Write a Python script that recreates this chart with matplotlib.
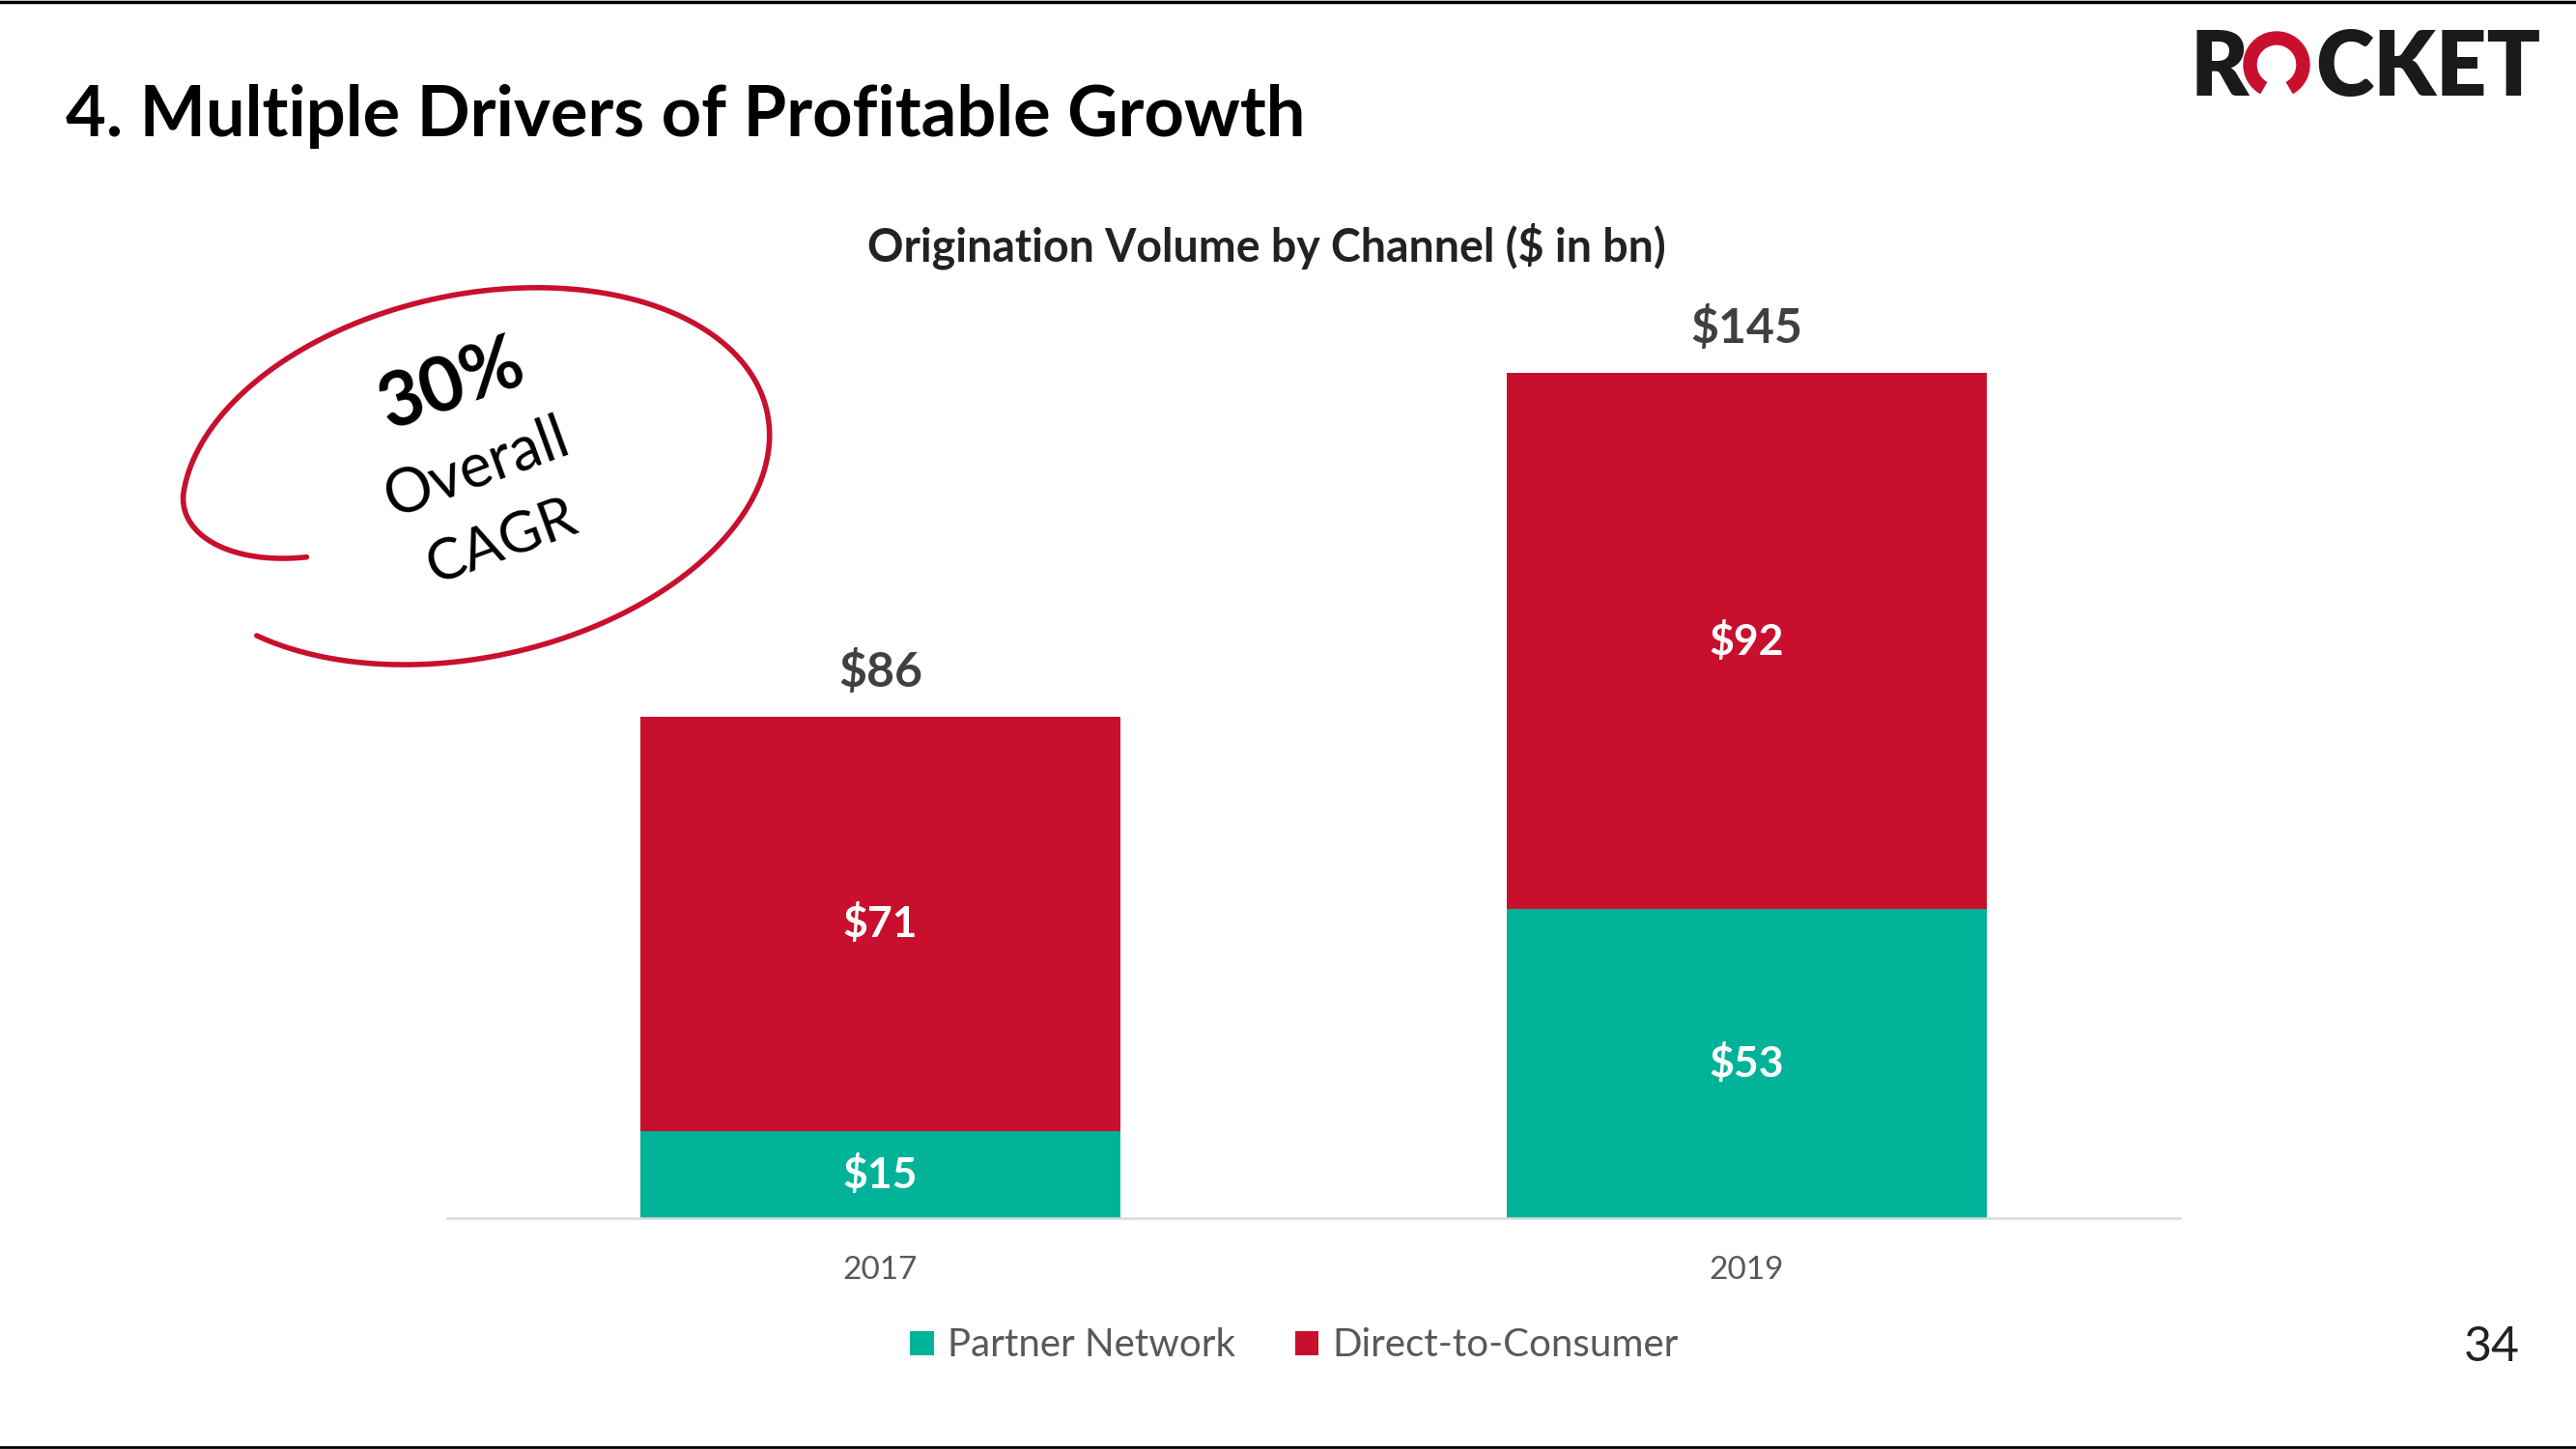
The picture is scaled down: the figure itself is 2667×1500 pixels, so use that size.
import numpy as np
import matplotlib
matplotlib.use("Agg")
import matplotlib.pyplot as plt
from matplotlib.patches import Wedge

plt.rcParams['font.family'] = ['Lato', 'DejaVu Sans']

# data
years = ["2017", "2019"]
partner = [15, 53]
direct = [71, 92]
totals = [86, 145]
series_names = ["Partner Network", "Direct-to-Consumer"]

RED = "#C8102E"
TEAL = "#00B398"
W, H = 2667, 1500

fig = plt.figure(figsize=(26.67, 15), dpi=100)

# overlay in pixel coordinates (y down) for slide decoration
ov = fig.add_axes([0, 0, 1, 1])
ov.set_xlim(0, W)
ov.set_ylim(H, 0)
ov.axis("off")

ov.plot([0, W], [1.5, 1.5], color="black", lw=2.5)
ov.plot([0, W], [1498, 1498], color="black", lw=2)

ov.text(68, 141, "4. Multiple Drivers of Profitable Growth", fontsize=52,
        fontweight="bold", color="black", ha="left", va="baseline")
ov.text(1311, 255, "Origination Volume by Channel ($ in bn)", fontsize=33.5,
        fontweight="bold", color="#222222", ha="center", va="center")
ov.text(2580, 1395, "34", fontsize=36, color="#222222", ha="center", va="center")

# logo
ov.text(2267, 99, "R", fontsize=66, fontweight="heavy", color="#1a1a1a",
        ha="left", va="baseline")
ov.add_patch(Wedge((2357, 67), 34, 120, 420, width=13, color=RED))
ov.text(2630, 99, "CKET", fontsize=66, fontweight="heavy", color="#1a1a1a",
        ha="right", va="baseline")

# hand-drawn CAGR loop
cx, cy, a, b = 488, 490, 302, 181
th = np.deg2rad(12)
t = np.deg2rad(np.linspace(204, -142, 400))
u = np.linspace(0, 1, 400)
s = 1.0 + 0.06 * u - 0.33 * np.clip(1 - u / 0.11, 0, None) ** 2
ex = a * s * np.cos(t)
ey = b * s * np.sin(t)
px = cx + ex * np.cos(th) - ey * np.sin(th)
py = cy - (ex * np.sin(th) + ey * np.cos(th))
ov.plot(px, py, color=RED, lw=4, solid_capstyle="round")

ov.text(468, 400, "30%", fontsize=56, fontweight="bold", rotation=19,
        ha="center", va="center", rotation_mode="anchor")
ov.text(493, 485, "Overall", fontsize=45, rotation=20,
        ha="center", va="center", rotation_mode="anchor")
ov.text(519, 561, "CAGR", fontsize=43, rotation=20,
        ha="center", va="center", rotation_mode="anchor")

# chart
ax = fig.add_axes([463 / W, 1 - 1261 / H, 1794 / W, 965 / H])
ax.set_facecolor("none")
x = np.arange(len(years))
bw = 0.555
b1 = ax.bar(x, partner, bw, color=TEAL, label=series_names[0])
b2 = ax.bar(x, direct, bw, bottom=partner, color=RED, label=series_names[1])

for i in range(len(years)):
    ax.text(x[i], partner[i] / 2, f"${partner[i]}", color="white", fontsize=32,
            fontweight="bold", ha="center", va="center")
    ax.text(x[i], partner[i] + direct[i] / 2, f"${direct[i]}", color="white",
            fontsize=32, fontweight="bold", ha="center", va="center")
    ax.annotate(f"${totals[i]}", xy=(x[i], totals[i]), xytext=(0, 34),
                textcoords="offset points", ha="center", va="center",
                fontsize=36, fontweight="bold", color="#404040")

ax.set_xlim(-0.5, 1.5)
ax.set_ylim(0, 160)
ax.set_xticks(x)
ax.set_xticklabels(years, fontsize=24, color="#595959")
ax.tick_params(axis="x", length=0, pad=28)
ax.set_yticks([])
for sp in ["top", "left", "right"]:
    ax.spines[sp].set_visible(False)
ax.spines["bottom"].set_color("#D9D9D9")
ax.spines["bottom"].set_linewidth(1.8)

fig.legend(handles=[b1, b2], loc="center", bbox_to_anchor=(1340 / W, 1 - 1393 / H),
           ncol=2, frameon=False, fontsize=29, labelcolor="#595959",
           handlelength=0.6, handleheight=0.6, handletextpad=0.35,
           columnspacing=1.55)

fig.savefig("out.png", dpi=100, facecolor="white")
